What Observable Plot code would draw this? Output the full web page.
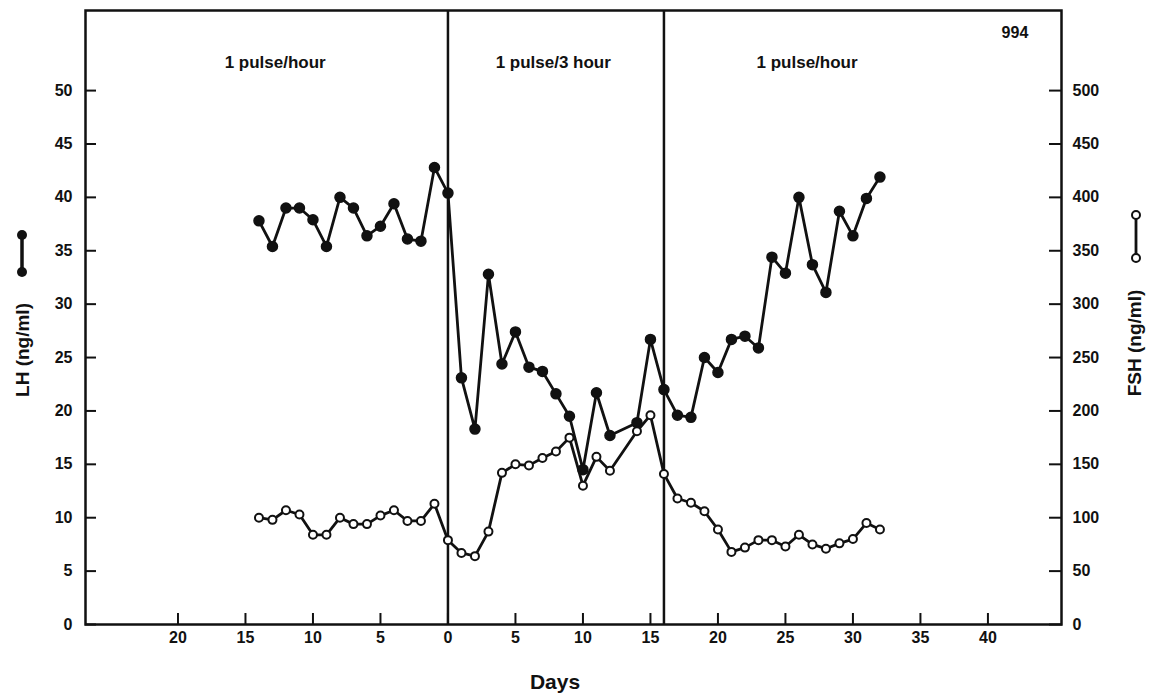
<!DOCTYPE html>
<html>
<head>
<meta charset="utf-8">
<script src="https://cdn.jsdelivr.net/npm/d3@7"></script>
<script src="https://cdn.jsdelivr.net/npm/@observablehq/plot@0.6"></script>
<style>
  body { margin: 0; background: #fff; }
  #chart svg { display: block; }
</style>
</head>
<body>
<div id="chart"></div>
<script>
// ---- data ----
const days = [-14,-13,-12,-11,-10,-9,-8,-7,-6,-5,-4,-3,-2,-1,0,
              1,2,3,4,5,6,7,8,9,10,11,12,
              14,15,16,17,18,19,20,21,22,23,24,25,26,27,28,29,30,31,32];
const lhValues = [37.8,35.4,39.0,39.0,37.9,35.4,40.0,39.0,36.4,37.3,39.4,36.1,35.9,42.8,40.4,
                  23.1,18.3,32.8,24.4,27.4,24.1,23.7,21.6,19.5,14.5,21.7,17.7,
                  18.9,26.7,22.0,19.6,19.4,25.0,23.6,26.7,27.0,25.9,34.4,32.9,40.0,33.7,31.1,38.7,36.4,39.9,41.9];
const fshValues = [100,98,107,103,84,84,100,94,94,102,107,97,97,113,79,
                   67,64,87,142,150,149,156,162,175,130,157,144,
                   181,196,141,118,114,106,89,68,72,79,79,73,84,75,71,76,80,95,89];
const phaseChanges = [0, 16];
const phaseLabels = ["1 pulse/hour", "1 pulse/3 hour", "1 pulse/hour"];
const xTicks = [-20,-15,-10,-5,0,5,10,15,20,25,30,35,40];
const lhTicks = [0,5,10,15,20,25,30,35,40,45,50];
const fshTicks = [0,50,100,150,200,250,300,350,400,450,500];
const fshPerLh = 10; // right axis is 10x the left axis

const lh = days.map((d, i) => ({day: d, value: lhValues[i]}));
const fsh = days.map((d, i) => ({day: d, value: fshValues[i] / fshPerLh}));

const W = 1151, H = 697;
const font = "'Liberation Sans', Arial, sans-serif";

const chart = Plot.plot({
  width: W,
  height: H,
  marginLeft: 85,
  marginRight: 90,
  marginTop: 10,
  marginBottom: 73,
  x: {domain: [-26.85, 45.45]},
  y: {domain: [0, 57.5]},
  style: {fontFamily: font, fontSize: "16px", fontWeight: "bold", color: "#111", background: "#fff"},
  marks: [
    Plot.frame({stroke: "#111", strokeWidth: 2.5}),
    Plot.ruleX(phaseChanges, {stroke: "#111", strokeWidth: 2.5}),
    Plot.axisX({ticks: xTicks, tickFormat: d => Math.abs(d), tickSize: -11, tickPadding: 18, label: null, strokeWidth: 2}),
    Plot.axisY({ticks: lhTicks, tickSize: -11, tickPadding: 24, label: null, strokeWidth: 2}),
    Plot.axisY({anchor: "right", ticks: fshTicks.map(v => v / fshPerLh), tickFormat: d => Math.round(d * fshPerLh),
                tickSize: -13, tickPadding: 24, label: null, strokeWidth: 2}),
    Plot.line(lh, {x: "day", y: "value", stroke: "#111", strokeWidth: 2.8}),
    Plot.dot(lh, {x: "day", y: "value", r: 5, fill: "#111", stroke: "#111"}),
    Plot.line(fsh, {x: "day", y: "value", stroke: "#111", strokeWidth: 2.8}),
    Plot.dot(fsh, {x: "day", y: "value", r: 4, fill: "#fff", stroke: "#111", strokeWidth: 2}),
    Plot.text([phaseLabels[0]], {x: -12.8, y: 52.6, text: d => d, fontSize: 17, fontWeight: "bold"}),
    Plot.text([phaseLabels[1]], {x: 7.8, y: 52.6, text: d => d, fontSize: 17, fontWeight: "bold"}),
    Plot.text([phaseLabels[2]], {x: 26.6, y: 52.6, text: d => d, fontSize: 17, fontWeight: "bold"}),
    Plot.text(["994"], {x: 42.0, y: 55.4, text: d => d, fontSize: 16, fontWeight: "bold"})
  ]
});

document.getElementById("chart").appendChild(chart);

// axis titles and their legend glyphs
const svg = d3.select(chart);
const g = svg.append("g").attr("font-family", font).attr("font-weight", "bold").attr("fill", "#111");

g.append("text")
  .attr("x", 555).attr("y", 683)
  .attr("text-anchor", "middle").attr("dominant-baseline", "middle")
  .attr("font-size", 21).text("Days");

g.append("text")
  .attr("transform", "translate(24,350) rotate(-90)")
  .attr("text-anchor", "middle").attr("dominant-baseline", "middle")
  .attr("font-size", 19).text("LH (ng/ml)");

g.append("text")
  .attr("transform", "translate(1136,343) rotate(-90)")
  .attr("text-anchor", "middle").attr("dominant-baseline", "middle")
  .attr("font-size", 19).text("FSH (ng/ml)");

// LH glyph: filled dots
g.append("line").attr("x1", 22).attr("x2", 22).attr("y1", 235).attr("y2", 272)
  .attr("stroke", "#111").attr("stroke-width", 3.5);
g.selectAll("circle.lhk").data([235, 272]).join("circle")
  .attr("cx", 22).attr("cy", d => d).attr("r", 5).attr("fill", "#111");

// FSH glyph: open circles
g.append("line").attr("x1", 1136).attr("x2", 1136).attr("y1", 215).attr("y2", 258)
  .attr("stroke", "#111").attr("stroke-width", 2.8);
g.selectAll("circle.fshk").data([215, 258]).join("circle")
  .attr("cx", 1136).attr("cy", d => d).attr("r", 4)
  .attr("fill", "#fff").attr("stroke", "#111").attr("stroke-width", 2);
</script>
</body>
</html>
